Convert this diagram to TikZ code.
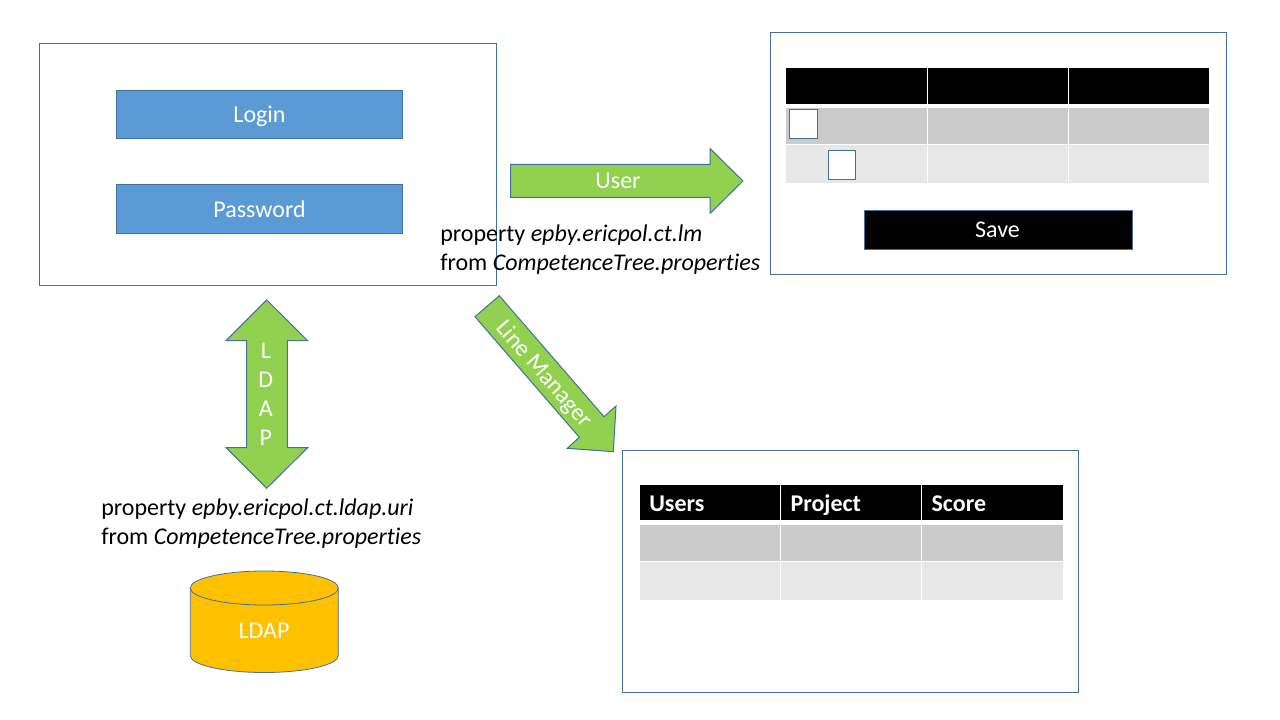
\documentclass[tikz,border=0pt]{standalone}
\usepackage{fontspec}
\setmainfont{Carlito}[Ligatures=NoCommon]
\definecolor{edgeblue}{HTML}{41719C}
\definecolor{btnblue}{HTML}{5B9BD5}
\definecolor{arrowgreen}{HTML}{92D050}
\definecolor{dbgold}{HTML}{FFC000}
\definecolor{rowdark}{HTML}{CBCBCB}
\definecolor{rowlight}{HTML}{E7E7E7}
\tikzset{
  x=0.75pt,y=-0.75pt,
  window/.style={draw=edgeblue,line width=0.75pt,fill=white},
  button/.style={draw=edgeblue,line width=0.6pt,fill=btnblue},
  blockarrow/.style={draw=edgeblue,line width=0.75pt,fill=arrowgreen,line join=miter},
  headcell/.style={draw=white,line width=0.7pt,fill=black},
  darkcell/.style={draw=white,line width=0.7pt,fill=rowdark},
  lightcell/.style={draw=white,line width=0.7pt,fill=rowlight},
  checkbox/.style={draw=edgeblue,line width=0.75pt,fill=white},
  whitetext/.style={text=white,inner sep=0pt,font=\fontsize{18}{21.7}\selectfont},
  boldhead/.style={text=white,inner sep=0pt,anchor=base west,font=\fontsize{18}{21.7}\selectfont\bfseries},
  note/.style={text=black,inner sep=0pt,anchor=base west,font=\fontsize{18}{21.7}\selectfont},
}
\begin{document}
\begin{tikzpicture}
\useasboundingbox (0,0) rectangle (1280,720);
\fill[white] (0,0) rectangle (1280,720);

% login window
\draw[window] (39.5,43.5) rectangle (496.5,285.5);
\draw[button] (116,90.7) rectangle (402.7,138);
\node[whitetext] (login) at (259.5,116) {Login};
\draw[button] (116,184) rectangle (402.7,233);
\node[whitetext] (password) at (259.5,209) {Password};

% user window
\draw[window] (770.5,32.5) rectangle (1226.5,274.5);
\draw[headcell] (785.5,67.5) rectangle (927,104);
\draw[headcell] (927,67.5) rectangle (1068.3,104);
\draw[headcell] (1068.3,67.5) rectangle (1209.5,104);
\draw[darkcell] (785.5,107.3) rectangle (927,144.7);
\draw[darkcell] (927,107.3) rectangle (1068.3,144.7);
\draw[darkcell] (1068.3,107.3) rectangle (1209.5,144.7);
\draw[lightcell] (785.5,144.7) rectangle (927,183.3);
\draw[lightcell] (927,144.7) rectangle (1068.3,183.3);
\draw[lightcell] (1068.3,144.7) rectangle (1209.5,183.3);
\draw[checkbox] (789.3,109.3) rectangle (817.7,138.3);
\draw[checkbox] (828.3,150.3) rectangle (855.7,179.7);
\draw[draw=edgeblue,line width=0.75pt,fill=black] (864.3,210.7) rectangle (1132.3,249.3);
\node[whitetext] (save) at (997.5,230) {Save};

% user arrow
\draw[blockarrow] (510.5,164.5) -- (710,164.5) -- (710,148.5) -- (743,181) -- (710,213.5) -- (710,197.5) -- (510.5,197.5) -- cycle;
\node[whitetext] (userlabel) at (618,181) {User};

% line manager arrow
\draw[blockarrow] (499.3,295.7) -- (604,416.7) -- (616,406) -- (613.3,451.7) -- (567.3,448.3) -- (579.3,437.3) -- (475,316.7) -- cycle;
\node[whitetext,rotate=-49] (lmlabel) at (543.5,374.5) {Line Manager};

% ldap arrow
\draw[blockarrow] (266.7,300) -- (307.7,340.7) -- (287.3,340.7) -- (287.3,447.7) -- (307.7,447.7) -- (266.7,488.3) -- (226,447.7) -- (246.7,447.7) -- (246.7,340.7) -- (226,340.7) -- cycle;
\node[whitetext,align=center] (ldaplabel) at (265.8,394.5) {L\\D\\A\\P};

% notes
\node[note] (lmnote1) at (440,242) {property \textit{epby.ericpol.ct.lm}};
\node[note] (lmnote2) at (440,270.5) {from \textit{CompetenceTree.properties}};
\node[note] (ldapnote1) at (101,515.7) {property \textit{epby.ericpol.ct.ldap.uri}};
\node[note] (ldapnote2) at (101,544) {from \textit{CompetenceTree.properties}};

% database
\draw[draw=edgeblue,line width=0.6pt,fill=dbgold] (190.3,588) -- (190.3,655.5) arc[start angle=180,end angle=0,x radius=74,y radius=17] -- (338.3,588) arc[start angle=0,end angle=-180,x radius=74,y radius=17] -- cycle;
\draw[draw=edgeblue,line width=0.6pt] (190.3,588) arc[start angle=180,end angle=0,x radius=74,y radius=17];
\node[whitetext] (ldapdb) at (264,630.3) {LDAP};

% line manager window
\draw[window] (622.5,450.5) rectangle (1078.5,692.5);
\draw[headcell] (639,484) rectangle (780.3,520.9);
\draw[headcell] (780.3,484) rectangle (921.7,520.9);
\draw[headcell] (921.7,484) rectangle (1063,520.9);
\draw[darkcell] (639,524) rectangle (780.3,561.5);
\draw[darkcell] (780.3,524) rectangle (921.7,561.5);
\draw[darkcell] (921.7,524) rectangle (1063,561.5);
\draw[lightcell] (639,561.5) rectangle (780.3,600);
\draw[lightcell] (780.3,561.5) rectangle (921.7,600);
\draw[lightcell] (921.7,561.5) rectangle (1063,600);
\node[boldhead] (users) at (649,511) {Users};
\node[boldhead] (project) at (790.3,511) {Project};
\node[boldhead] (score) at (931.3,511) {Score};
\end{tikzpicture}
\end{document}
